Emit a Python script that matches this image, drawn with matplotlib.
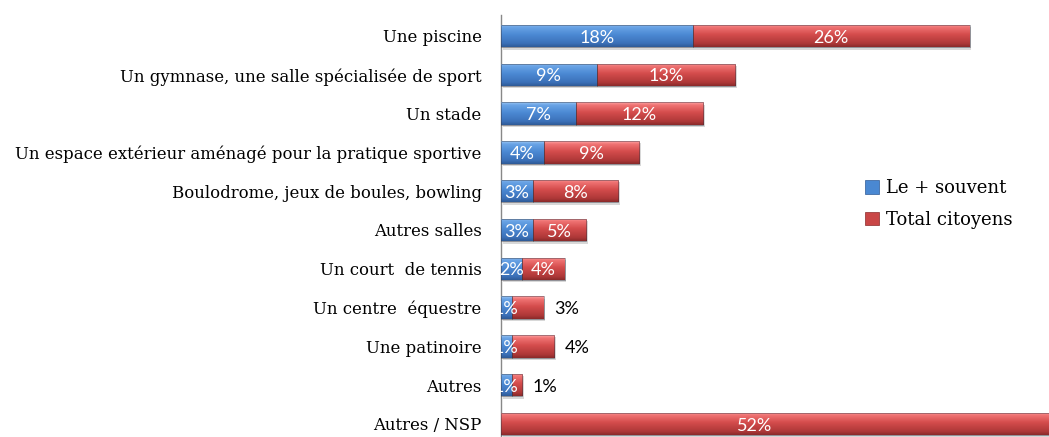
import numpy as np
import matplotlib
matplotlib.use("Agg")
import matplotlib.pyplot as plt
from matplotlib.colors import LinearSegmentedColormap
from matplotlib.patches import Patch

categories = [
    "Une piscine",
    "Un gymnase, une salle spécialisée de sport",
    "Un stade",
    "Un espace extérieur aménagé pour la pratique sportive",
    "Boulodrome, jeux de boules, bowling",
    "Autres salles",
    "Un court  de tennis",
    "Un centre  équestre",
    "Une patinoire",
    "Autres",
    "Autres / NSP",
]
le_plus_souvent = [18, 9, 7, 4, 3, 3, 2, 1, 1, 1, 0]
total_citoyens = [26, 13, 12, 9, 8, 5, 4, 3, 4, 1, 52]
red_label_outside = [False, False, False, False, False, False, False, True, True, True, False]
series_names = ["Le + souvent", "Total citoyens"]

W, H = 1049, 437
fig = plt.figure(figsize=(W / 100, H / 100), dpi=100)
row_px = 38.8
top_px = 15
ax = fig.add_axes([501 / W, 0, (W - 501) / W, (H - top_px) / H])

y = np.arange(len(categories))
bh = 0.58
blue_bars = ax.barh(y, le_plus_souvent, height=bh, color="#4A88D2", edgecolor="none", zorder=2)
red_bars = ax.barh(y, total_citoyens, left=le_plus_souvent, height=bh, color="#C94646",
                   edgecolor="none", zorder=2)

blue_cmap = LinearSegmentedColormap.from_list(
    "b", [(0, "#9CC8F5"), (0.12, "#6AA4E6"), (0.45, "#4C8AD4"), (0.85, "#3B70B8"), (1.0, "#2E5A96")])
red_cmap = LinearSegmentedColormap.from_list(
    "r", [(0, "#FFA6A6"), (0.12, "#F07474"), (0.45, "#D44C4C"), (0.85, "#AE3838"), (1.0, "#8A2A2A")])

grad = np.linspace(0, 1, 64).reshape(-1, 1)
for bars, cmap in ((blue_bars, blue_cmap), (red_bars, red_cmap)):
    for b in bars:
        x0, yb = b.get_x(), b.get_y()
        w, h = b.get_width(), b.get_height()
        if w <= 0:
            continue
        ax.add_patch(plt.Rectangle((x0 + 0.15, yb + 0.06), w, h, color="#d8d8d8", zorder=1, lw=0))
        im = ax.imshow(grad, cmap=cmap, aspect="auto", extent=(x0, x0 + w, yb + h, yb),
                       zorder=3, interpolation="bilinear")
        im.set_clip_path(b)
        ax.add_patch(plt.Rectangle((x0, yb), w, h, fill=False, edgecolor=(0.2, 0.2, 0.25, 0.5),
                                   lw=0.6, zorder=4))

xmax = (W - 501) / 10.65
ax.set_xlim(0, xmax)
ax.set_ylim(10 + (H - 424) / row_px, -(36 - top_px) / row_px)

lab_font = dict(family=["Lato", "DejaVu Sans"], fontsize=13)
for i in range(len(categories)):
    b = le_plus_souvent[i]
    r = total_citoyens[i]
    if b > 0:
        ax.text(b / 2, i + 0.04, f"{b}%", color="white", ha="center", va="center", zorder=5, **lab_font)
    if r > 0:
        if red_label_outside[i]:
            ax.text(b + r + 0.95, i + 0.04, f"{r}%", color="black", ha="left", va="center", zorder=5, **lab_font)
        else:
            vis_end = min(b + r, xmax * 0.925)
            ax.text((b + vis_end) / 2, i + 0.04, f"{r}%", color="white", ha="center", va="center",
                    zorder=5, **lab_font)

serif = ["DejaVu Serif", "Liberation Serif"]
ax.set_yticks(y)
ax.set_yticklabels(categories, family=serif, fontsize=11.9)
ax.tick_params(axis="y", length=0, pad=14)
ax.tick_params(axis="x", bottom=False, labelbottom=False)
for s in ("top", "right", "bottom"):
    ax.spines[s].set_visible(False)
ax.spines["left"].set_color("#888888")
ax.spines["left"].set_linewidth(1.0)

handles = [Patch(facecolor="#4A88D2", edgecolor="#2E5A96", lw=0.5),
           Patch(facecolor="#C94646", edgecolor="#8A2A2A", lw=0.5)]
fig.legend(handles, series_names, loc="upper left", bbox_to_anchor=(858 / W, 1 - 172 / H),
           frameon=False, prop={"family": serif, "size": 13},
           handlelength=0.75, handleheight=0.75, handletextpad=0.4, labelspacing=0.75,
           borderaxespad=0)

fig.savefig("out.png", dpi=100)
